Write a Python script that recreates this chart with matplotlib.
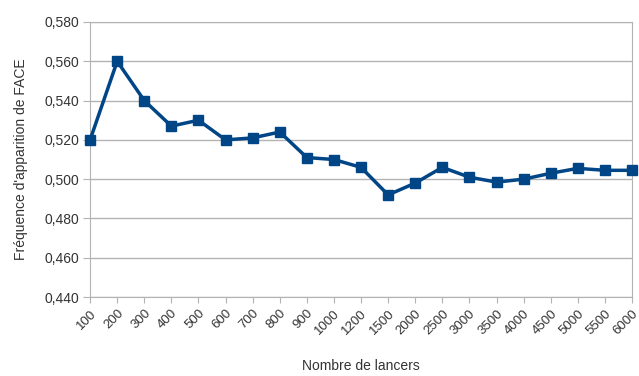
import matplotlib
matplotlib.use("Agg")
import matplotlib.pyplot as plt

plt.rcParams['font.family'] = ['Liberation Sans', 'DejaVu Sans']

lancers = ['100', '200', '300', '400', '500', '600', '700', '800', '900', '1000',
           '1200', '1500', '2000', '2500', '3000', '3500', '4000', '4500', '5000',
           '5500', '6000']
frequence = [0.520, 0.560, 0.540, 0.527, 0.530, 0.520, 0.521, 0.524, 0.511, 0.510,
             0.506, 0.492, 0.498, 0.506, 0.501, 0.4985, 0.500, 0.503, 0.5055,
             0.5045, 0.5045]
yticks = [0.44, 0.46, 0.48, 0.50, 0.52, 0.54, 0.56, 0.58]

fig = plt.figure(figsize=(6.39, 3.76), dpi=100)
ax = fig.add_axes([0.141, 0.21, 0.848, 0.7315])

x = list(range(len(lancers)))
ax.plot(x, frequence, color='#004586', linewidth=2.5, marker='s', markersize=7,
        zorder=3, clip_on=False)

ax.set_xlim(0, len(lancers) - 1)
ax.set_ylim(0.44, 0.58)
ax.set_yticks(yticks)
ax.set_yticklabels([f"{v:.3f}".replace('.', ',') for v in yticks], fontsize=10)
ax.set_xticks(x)
ax.set_xticklabels(lancers, rotation=45, ha='right', rotation_mode='anchor',
                   fontsize=9.5)

ax.grid(axis='y', color='#b3b3b3', linewidth=1)
ax.set_axisbelow(True)
for s in ax.spines.values():
    s.set_color('#b3b3b3')
ax.tick_params(colors='#b3b3b3', length=4, labelcolor='#333333')
ax.tick_params(axis='y', length=5, pad=3)

ax.set_ylabel("Fréquence d'apparition de FACE", fontsize=10, color='#333333')
ax.yaxis.set_label_coords(-0.115, 0.5)
ax.set_xlabel("Nombre de lancers", fontsize=10, color='#333333')
ax.xaxis.set_label_coords(0.5, -0.225)

fig.savefig("out.png", dpi=100)
